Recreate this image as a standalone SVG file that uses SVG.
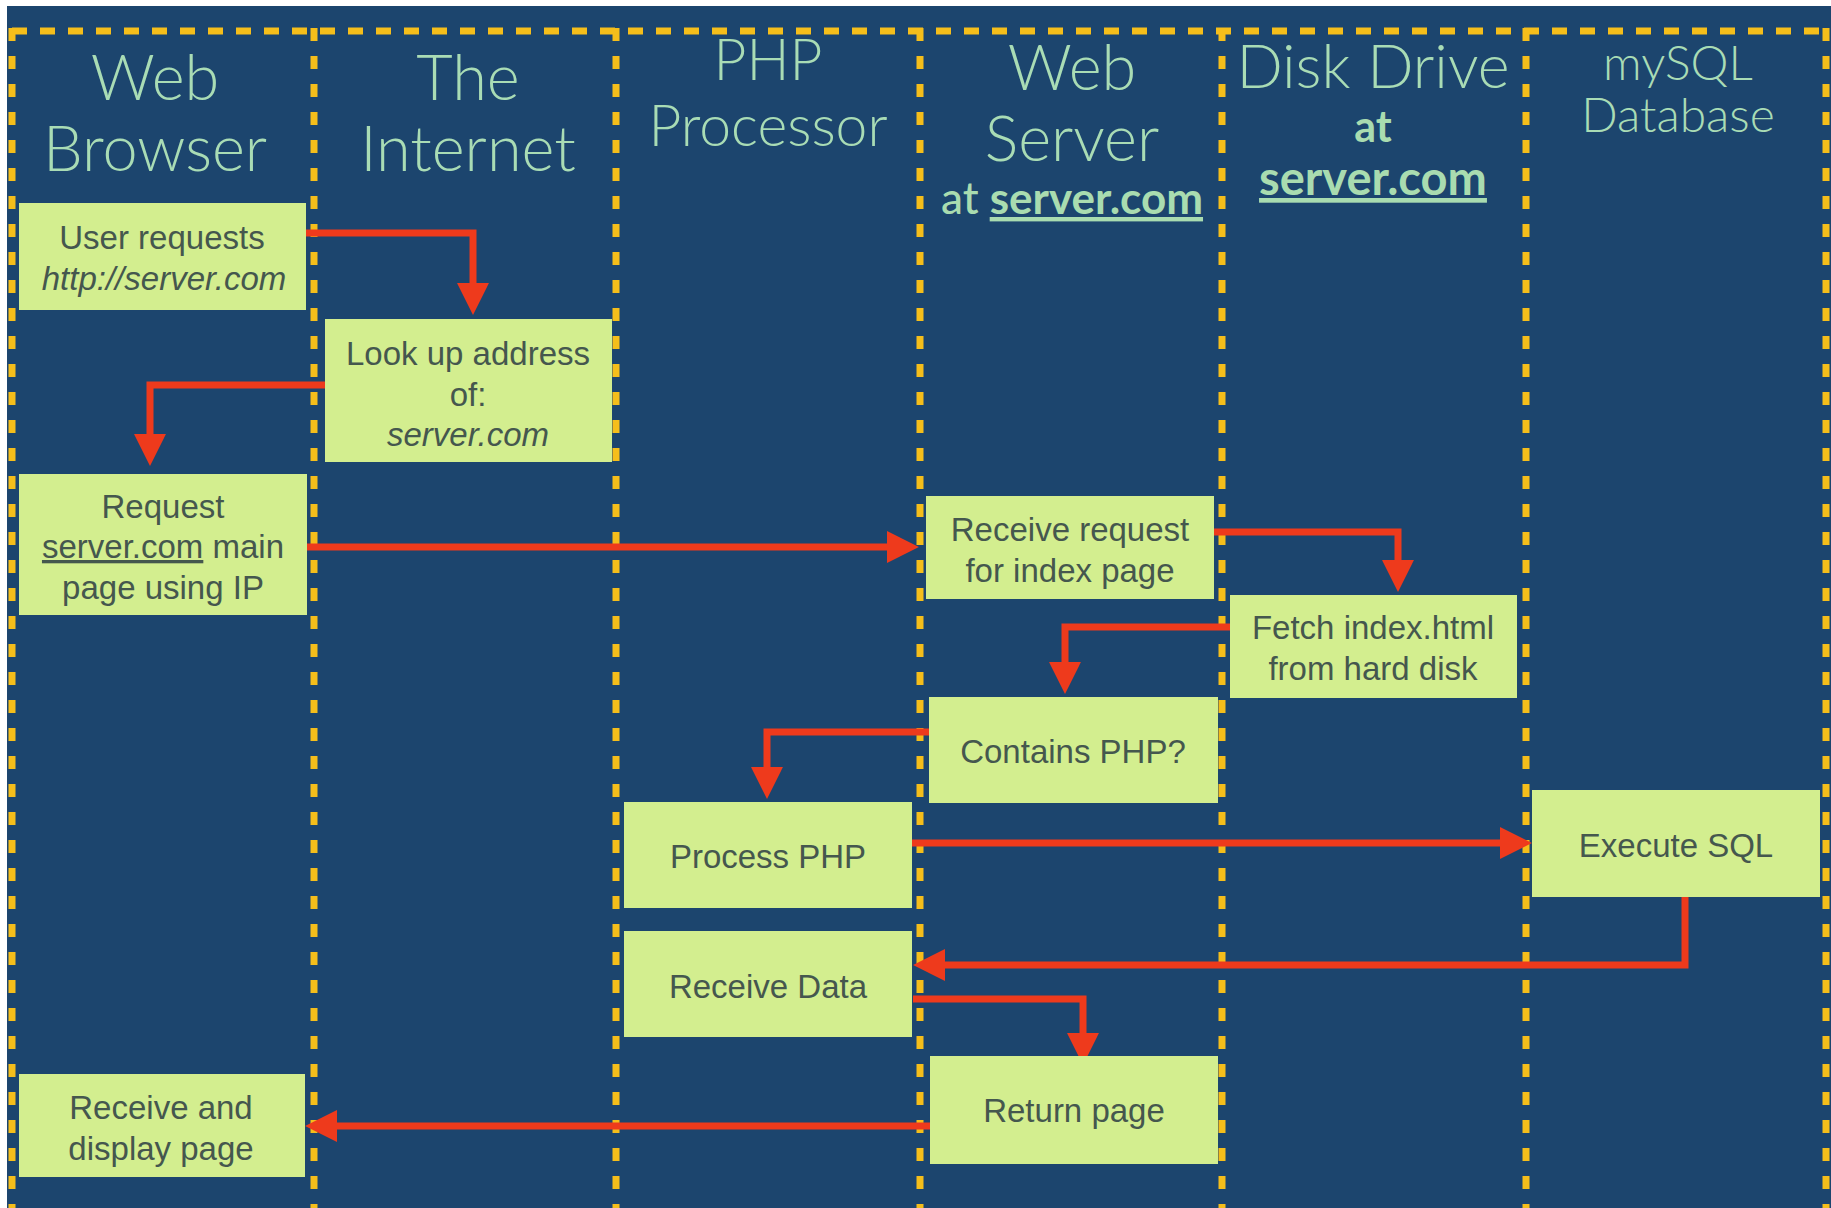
<svg xmlns="http://www.w3.org/2000/svg" width="1831" height="1208" viewBox="0 0 1831 1208">
<defs>
<style>
.bg{fill:#1c456e}
.lane{stroke:#f5be1b;stroke-width:7;fill:none}
.vl{stroke-dasharray:13 15}
.hl{stroke-dasharray:15 13}
.hd{font-family:Lato,"Liberation Sans",sans-serif;font-weight:300;fill:#a9dcb5;text-anchor:middle}
.hb{font-family:Lato,"Liberation Sans",sans-serif;font-weight:700;fill:#a9dcb0;text-anchor:middle}
.box{fill:#d3ee8f}
.bt{font-family:"Liberation Sans",Arial,sans-serif;font-size:33px;fill:#45574e;text-anchor:middle}
.it{font-style:italic}
.ul{text-decoration:underline}
.con{stroke:#ee3a1c;stroke-width:7;fill:none;marker-end:url(#ah)}
</style>
<marker id="ah" markerUnits="userSpaceOnUse" markerWidth="32" markerHeight="32" viewBox="0 0 30 30" refX="1" refY="15" orient="auto">
<path d="M0,0 L30,15 L0,30 z" fill="#ee3a1c"/>
</marker>
</defs>
<rect x="0" y="0" width="1831" height="1208" fill="#ffffff"/>
<rect class="bg" x="7" y="6" width="1824" height="1202"/>
<g id="lanes">
<line class="lane hl" x1="12" y1="31" x2="1826" y2="31"/>
<line class="lane vl" x1="12" y1="28" x2="12" y2="1208"/>
<line class="lane vl" x1="314" y1="28" x2="314" y2="1208"/>
<line class="lane vl" x1="616" y1="28" x2="616" y2="1208"/>
<line class="lane vl" x1="920" y1="28" x2="920" y2="1208"/>
<line class="lane vl" x1="1222" y1="28" x2="1222" y2="1208"/>
<line class="lane vl" x1="1526" y1="28" x2="1526" y2="1208"/>
<line class="lane vl" x1="1826" y1="28" x2="1826" y2="1208"/>
</g>
<g id="headers">
<text class="hd" font-size="63" x="155" y="100">Web</text>
<text class="hd" font-size="63" x="155" y="171">Browser</text>
<text class="hd" font-size="63" x="468" y="100">The</text>
<text class="hd" font-size="63" x="468" y="171">Internet</text>
<text class="hd" font-size="57" x="768" y="80">PHP</text>
<text class="hd" font-size="57" x="768" y="146">Processor</text>
<text class="hd" font-size="63" x="1072" y="90">Web</text>
<text class="hd" font-size="63" x="1072" y="161">Server</text>
<text class="hb" font-size="44" x="1072" y="214"><tspan font-weight="500">at </tspan><tspan class="ul">server.com</tspan></text>
<text class="hd" font-size="61" x="1373" y="88">Disk Drive</text>
<text class="hb" font-size="43" x="1373" y="142">at</text>
<text class="hb ul" font-size="47" x="1373" y="195">server.com</text>
<text class="hd" font-size="48" x="1678" y="80">mySQL</text>
<text class="hd" font-size="48" x="1678" y="132">Database</text>
</g>
<g id="connectors">
<path class="con" d="M306,233 H473 V284"/>
<path class="con" d="M325,385 H150 V435"/>
<path class="con" d="M307,547 H888"/>
<path class="con" d="M1213,532 H1398 V561"/>
<path class="con" d="M1230,627 H1065 V663"/>
<path class="con" d="M929,732 H767 V768"/>
<path class="con" d="M912,843 H1501"/>
<path class="con" d="M1685,897 V965 H944"/>
<path class="con" d="M913,999 H1083 V1034"/>
<path class="con" d="M931,1126 H336"/>
</g>
<g id="n1"><rect class="box" x="19" y="203" width="287" height="107"/>
<text class="bt" x="162" y="249">User requests</text>
<text class="bt it" x="164" y="290">http://server.com</text></g>
<g id="n2"><rect class="box" x="325" y="319" width="287" height="143"/>
<text class="bt" x="468" y="365">Look up address</text>
<text class="bt" x="468" y="406">of:</text>
<text class="bt it" x="468" y="446">server.com</text></g>
<g id="n3"><rect class="box" x="19" y="474" width="288" height="141"/>
<text class="bt" x="163" y="518">Request</text>
<text class="bt" x="163" y="558"><tspan class="ul">server.com</tspan> main</text>
<text class="bt" x="163" y="599">page using IP</text></g>
<g id="n4"><rect class="box" x="926" y="496" width="288" height="103"/>
<text class="bt" x="1070" y="541">Receive request</text>
<text class="bt" x="1070" y="582">for index page</text></g>
<g id="n5"><rect class="box" x="1230" y="595" width="287" height="103"/>
<text class="bt" x="1373" y="639">Fetch index.html</text>
<text class="bt" x="1373" y="680">from hard disk</text></g>
<g id="n6"><rect class="box" x="929" y="697" width="289" height="106"/>
<text class="bt" x="1073" y="763">Contains PHP?</text></g>
<g id="n7"><rect class="box" x="624" y="802" width="288" height="106"/>
<text class="bt" x="768" y="868">Process PHP</text></g>
<g id="n8"><rect class="box" x="1532" y="790" width="288" height="107"/>
<text class="bt" x="1676" y="857">Execute SQL</text></g>
<g id="n9"><rect class="box" x="624" y="931" width="288" height="106"/>
<text class="bt" x="768" y="998">Receive Data</text></g>
<g id="n10"><rect class="box" x="930" y="1056" width="288" height="108"/>
<text class="bt" x="1074" y="1122">Return page</text></g>
<g id="n11"><rect class="box" x="19" y="1074" width="286" height="103"/>
<text class="bt" x="161" y="1119">Receive and</text>
<text class="bt" x="161" y="1160">display page</text></g>
</svg>
